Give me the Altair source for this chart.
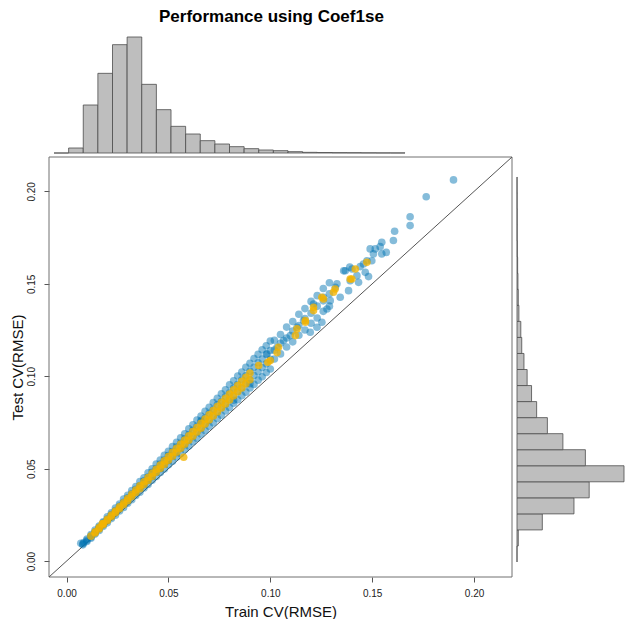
import altair as alt
import pandas as pd

# ---------------- data ----------------
lims = [-0.0086, 0.2186]
tick_vals = [0.00, 0.05, 0.10, 0.15, 0.20]

# dense part of the blue cloud: train value, then test values across the band
blue_rows = [
    (0.008, 0.0088, 0.0094),
    (0.010, 0.0106, 0.0113, 0.0119),
    (0.012, 0.0124, 0.0131, 0.0136, 0.0144),
    (0.014, 0.0146, 0.0153, 0.0159, 0.0168),
    (0.016, 0.0166, 0.0175, 0.0183, 0.0190),
    (0.018, 0.0188, 0.0196, 0.0207, 0.0213),
    (0.020, 0.0207, 0.0219, 0.0227, 0.0240),
    (0.022, 0.0230, 0.0239, 0.0252, 0.0261),
    (0.024, 0.0248, 0.0263, 0.0273, 0.0287),
    (0.026, 0.0271, 0.0283, 0.0298, 0.0308),
    (0.028, 0.0290, 0.0306, 0.0318, 0.0335),
    (0.030, 0.0313, 0.0326, 0.0343, 0.0356),
    (0.032, 0.0332, 0.0350, 0.0364, 0.0382),
    (0.034, 0.0355, 0.0370, 0.0389, 0.0403),
    (0.036, 0.0373, 0.0393, 0.0409, 0.0430),
    (0.038, 0.0396, 0.0413, 0.0434, 0.0451),
    (0.040, 0.0415, 0.0437, 0.0455, 0.0477),
    (0.042, 0.0438, 0.0457, 0.0480, 0.0499),
    (0.044, 0.0457, 0.0481, 0.0501, 0.0525),
    (0.046, 0.0479, 0.0500, 0.0525, 0.0547),
    (0.048, 0.0498, 0.0524, 0.0546, 0.0572),
    (0.050, 0.0521, 0.0544, 0.0571, 0.0594),
    (0.052, 0.0540, 0.0568, 0.0592, 0.0620),
    (0.054, 0.0563, 0.0588, 0.0617, 0.0642),
    (0.056, 0.0581, 0.0611, 0.0637, 0.0667),
    (0.058, 0.0604, 0.0631, 0.0662, 0.0689),
    (0.060, 0.0623, 0.0655, 0.0683, 0.0715),
    (0.062, 0.0646, 0.0675, 0.0708, 0.0737),
    (0.064, 0.0665, 0.0699, 0.0729, 0.0763),
    (0.066, 0.0687, 0.0718, 0.0753, 0.0784),
    (0.068, 0.0706, 0.0742, 0.0774, 0.0810),
    (0.070, 0.0729, 0.0762, 0.0799, 0.0832),
    (0.072, 0.0748, 0.0786, 0.0820, 0.0858),
    (0.074, 0.0771, 0.0806, 0.0845, 0.0880),
    (0.076, 0.0789, 0.0829, 0.0865, 0.0905),
    (0.078, 0.0812, 0.0849, 0.0890, 0.0927),
    (0.080, 0.0831, 0.0873, 0.0911, 0.0953),
    (0.082, 0.0854, 0.0893, 0.0936, 0.0975),
    (0.084, 0.0873, 0.0917, 0.0957, 0.1001),
    (0.086, 0.0895, 0.0936, 0.0981, 0.1022),
    (0.088, 0.0914, 0.0960, 0.1002, 0.1048),
    (0.090, 0.0937, 0.0980, 0.1027, 0.1070),
    (0.092, 0.0956, 0.1004, 0.1048, 0.1096),
    (0.094, 0.0979, 0.1024, 0.1073, 0.1118),
    (0.096, 0.0997, 0.1047, 0.1093, 0.1143),
    (0.098, 0.1020, 0.1067, 0.1118, 0.1165),
    (0.100, 0.1039, 0.1091, 0.1139, 0.1191),
    (0.102, 0.1093, 0.1141, 0.1195),
    (0.105, 0.1121, 0.1178, 0.1226),
    (0.108, 0.1158, 0.1207, 0.1266),
    (0.111, 0.1186, 0.1245, 0.1296),
    (0.114, 0.1222, 0.1274, 0.1335),
    (0.117, 0.1250, 0.1312, 0.1366),
    (0.120, 0.1287, 0.1341, 0.1405),
    (0.123, 0.1315, 0.1379, 0.1436),
    (0.126, 0.1351, 0.1408, 0.1475),
    (0.129, 0.1379, 0.1446, 0.1506),
]
# isolated blue points
blue_pts = [
    (0.0070, 0.0096), (0.0085, 0.0100), (0.0660, 0.0760), (0.0820, 0.0870),
    (0.0900, 0.0960), (0.0984, 0.1121), (0.1033, 0.1157), (0.1065, 0.1193),
    (0.1098, 0.1220), (0.1131, 0.1265), (0.1163, 0.1301), (0.1196, 0.1238),
    (0.1212, 0.1391), (0.1229, 0.1265), (0.1253, 0.1292), (0.1261, 0.1427),
    (0.1278, 0.1364), (0.1294, 0.1409), (0.1319, 0.1481), (0.1327, 0.1500),
    (0.1343, 0.1427), (0.1360, 0.1570), (0.1368, 0.1571), (0.1384, 0.1463),
    (0.1390, 0.1590), (0.1392, 0.1517), (0.1401, 0.1580), (0.1425, 0.1544),
    (0.1433, 0.1508), (0.1441, 0.1593), (0.1457, 0.1607), (0.1466, 0.1562),
    (0.1474, 0.1625), (0.1482, 0.1539), (0.1490, 0.1689), (0.1498, 0.1625),
    (0.1506, 0.1662), (0.1515, 0.1689), (0.1539, 0.1701), (0.1547, 0.1662),
    (0.1547, 0.1725), (0.1569, 0.1670), (0.1604, 0.1734), (0.1610, 0.1784),
    (0.1686, 0.1815), (0.1686, 0.1863), (0.1765, 0.1971), (0.1899, 0.2062),
]

# orange band: train value, then test values
orange_rows = [
    (0.014, 0.0152, 0.0158), (0.016, 0.0174, 0.0181), (0.018, 0.0196, 0.0203),
    (0.020, 0.0218, 0.0226), (0.022, 0.0240, 0.0249), (0.024, 0.0262, 0.0271),
    (0.026, 0.0283, 0.0294), (0.028, 0.0305, 0.0316), (0.030, 0.0327, 0.0339),
    (0.032, 0.0349, 0.0362), (0.034, 0.0371, 0.0384), (0.036, 0.0392, 0.0407),
    (0.038, 0.0414, 0.0429), (0.040, 0.0436, 0.0452), (0.042, 0.0458, 0.0475),
    (0.044, 0.0480, 0.0497), (0.046, 0.0501, 0.0520), (0.048, 0.0523, 0.0542),
    (0.050, 0.0545, 0.0565), (0.052, 0.0567, 0.0588), (0.054, 0.0589, 0.0610),
    (0.056, 0.0610, 0.0633), (0.058, 0.0632, 0.0655), (0.060, 0.0654, 0.0678),
    (0.062, 0.0676, 0.0701), (0.064, 0.0698, 0.0723), (0.066, 0.0719, 0.0746),
    (0.068, 0.0741, 0.0768), (0.070, 0.0763, 0.0791), (0.072, 0.0785, 0.0814),
    (0.074, 0.0807, 0.0836), (0.076, 0.0828, 0.0859), (0.078, 0.0850, 0.0881),
    (0.080, 0.0872, 0.0904), (0.082, 0.0894, 0.0927), (0.084, 0.0916, 0.0949),
    (0.086, 0.0937, 0.0972), (0.088, 0.0959, 0.0994), (0.090, 0.0981, 0.1017),
]
orange_pts = [
    (0.0120, 0.0135), (0.0175, 0.0202), (0.0575, 0.0562),
    (0.0943, 0.1058), (0.0988, 0.1076), (0.1000, 0.1085), (0.1033, 0.1128),
    (0.1040, 0.1157), (0.1123, 0.1220), (0.1131, 0.1256), (0.1172, 0.1301),
    (0.1172, 0.1292), (0.1212, 0.1355), (0.1212, 0.1373), (0.1253, 0.1427),
    (0.1261, 0.1418), (0.1310, 0.1454), (0.1318, 0.1472), (0.1392, 0.1526),
    (0.1400, 0.1526), (0.1417, 0.1580), (0.1474, 0.1616),
]

# marginal histogram of Train CV(RMSE): 24 bins of width 0.008
top_bin_start = [round(i * 0.008, 3) for i in range(24)]
top_counts = [0, 15, 144, 239, 325, 348, 206, 130, 80, 57, 37, 27, 19, 13, 9, 7, 4, 2,
              1.5, 1, 0.8, 0.5, 0.3, 0.2]

# marginal histogram of Test CV(RMSE): 24 bins of width 0.009
right_bin_start = [round(i * 0.009, 3) for i in range(24)]
right_counts = [0, 4, 80, 180, 228, 338, 216, 145, 96, 62, 46, 32, 22, 15, 12, 6, 4, 3,
                2, 1, 0.5, 0.5, 0.3, 0.2]


# ---------------- tables ----------------
def rows_to_pairs(rows):
    return [(r[0], t) for r in rows for t in r[1:]]


blue_df = pd.DataFrame(rows_to_pairs(blue_rows) + blue_pts, columns=["train", "test"])
orange_df = pd.DataFrame(rows_to_pairs(orange_rows) + orange_pts, columns=["train", "test"])
lim_df = pd.DataFrame({"a": [lims[0]], "b": [lims[1]]})
diag_df = pd.DataFrame({"train": lims, "test": lims})
top_df = pd.DataFrame({"start": top_bin_start,
                       "end": [s + 0.008 for s in top_bin_start],
                       "count": top_counts})
right_df = pd.DataFrame({"start": right_bin_start,
                         "end": [s + 0.009 for s in right_bin_start],
                         "count": right_counts})

FONT = "Liberation Sans"
VW, PW, PH = 576, 463, 540          # view width, main x range width, view height
xs = alt.Scale(domain=lims, range=[0, PW], nice=False, zero=False)
ys = alt.Scale(domain=lims, range=[PH, 120], nice=False, zero=False)

x_axis = alt.Axis(values=tick_vals, format=".2f", title="Train CV(RMSE)", orient="bottom",
                  domain=False, grid=False, tickSize=5, tickColor="#555555",
                  labelFont=FONT, labelFontSize=10, labelColor="#222222", labelPadding=6,
                  titleFont=FONT, titleFontSize=15, titleFontWeight="normal",
                  titleColor="#111111", titlePadding=6)
y_axis = alt.Axis(values=tick_vals, format=".2f", title="Test CV(RMSE)", orient="left",
                  domain=False, grid=False, tickSize=5, tickColor="#555555",
                  labelAngle=270, labelAlign="center", labelBaseline="bottom",
                  labelFont=FONT, labelFontSize=10, labelColor="#222222", labelPadding=8,
                  titleFont=FONT, titleFontSize=15, titleFontWeight="normal",
                  titleColor="#111111", titlePadding=1)

box = alt.Chart(lim_df).mark_rect(fill="transparent", stroke="#707070", strokeWidth=1).encode(
    x=alt.X("a:Q", scale=xs, axis=x_axis),
    x2="b:Q",
    y=alt.Y("a:Q", scale=ys, axis=y_axis),
    y2="b:Q",
)
diag = alt.Chart(diag_df).mark_line(color="#555555", strokeWidth=1).encode(
    x=alt.X("train:Q", scale=xs), y=alt.Y("test:Q", scale=ys)
)
blue = alt.Chart(blue_df).mark_circle(size=58, color="#0072B2", opacity=0.48).encode(
    x=alt.X("train:Q", scale=xs), y=alt.Y("test:Q", scale=ys)
)
orange = alt.Chart(orange_df).mark_circle(size=58, color="#F4B400", opacity=0.78).encode(
    x=alt.X("train:Q", scale=xs), y=alt.Y("test:Q", scale=ys)
)
main = alt.layer(box, diag, blue, orange)

top_hist = alt.Chart(top_df).mark_rect(fill="#BEBEBE", stroke="#4D4D4D", strokeWidth=0.8).encode(
    x=alt.X("start:Q", scale=alt.Scale(domain=[0, 0.192], range=[5, 356], nice=False, zero=False), axis=None),
    x2="end:Q",
    y=alt.Y("count:Q", scale=alt.Scale(domain=[0, 348], range=[116, 0], nice=False), axis=None),
    y2=alt.Y2(datum=0),
)
right_hist = alt.Chart(right_df).mark_rect(fill="#BEBEBE", stroke="#4D4D4D", strokeWidth=0.8).encode(
    y=alt.Y("start:Q", scale=alt.Scale(domain=[0, 0.216], range=[525, 140], nice=False, zero=False), axis=None),
    y2="end:Q",
    x=alt.X("count:Q", scale=alt.Scale(domain=[0, 338], range=[468, 575], nice=False), axis=None),
    x2=alt.X2(datum=0),
)

chart = alt.layer(main, top_hist, right_hist).resolve_scale(
    x="independent", y="independent"
).resolve_axis(x="independent", y="independent").properties(
    width=VW,
    height=PH,
    autosize=alt.AutoSizeParams(type="none"),
    padding={"left": 41, "top": 29, "right": 0, "bottom": 42},
    title=alt.TitleParams("Performance using Coef1se", font=FONT, fontSize=17,
                          fontWeight="bold", color="#000000", anchor="start",
                          frame="group", dx=110, offset=11),
).configure_view(strokeWidth=0)

chart.save("out.html", embed_options={"renderer": "svg", "actions": False})
